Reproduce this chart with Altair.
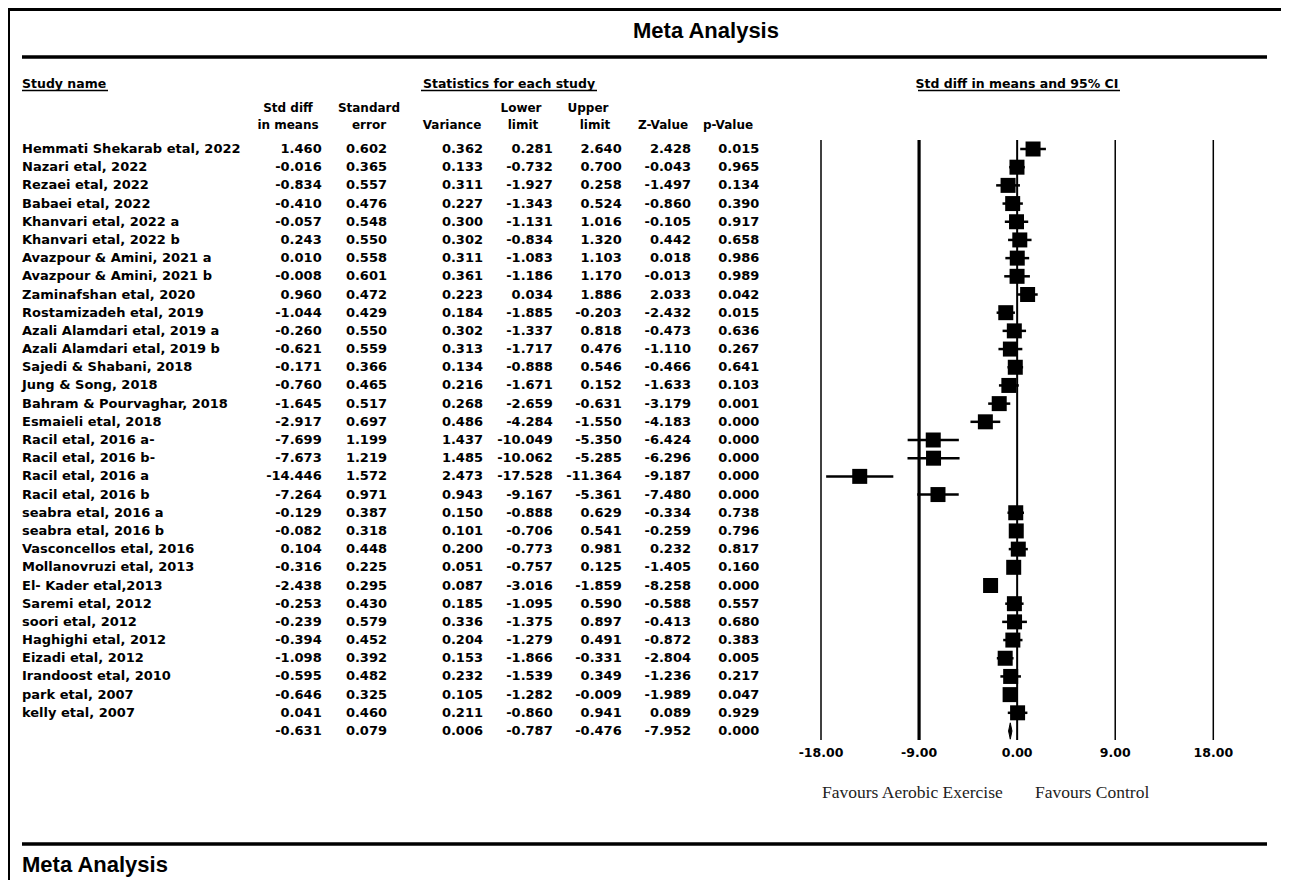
import altair as alt
import pandas as pd

# ---------------- data ----------------
names = [
    "Hemmati Shekarab etal, 2022", "Nazari etal, 2022", "Rezaei etal, 2022",
    "Babaei etal, 2022", "Khanvari etal, 2022 a", "Khanvari etal, 2022 b",
    "Avazpour & Amini, 2021 a", "Avazpour & Amini, 2021 b", "Zaminafshan etal, 2020",
    "Rostamizadeh etal, 2019", "Azali Alamdari etal, 2019 a", "Azali Alamdari etal, 2019 b",
    "Sajedi & Shabani, 2018", "Jung & Song, 2018", "Bahram & Pourvaghar, 2018",
    "Esmaieli etal, 2018", "Racil  etal, 2016 a-", "Racil  etal, 2016 b-",
    "Racil  etal, 2016 a", "Racil  etal, 2016 b", "seabra etal, 2016 a",
    "seabra etal, 2016 b", "Vasconcellos etal, 2016", "Mollanovruzi etal, 2013",
    "El- Kader etal,2013", "Saremi etal, 2012", "soori etal, 2012",
    "Haghighi  etal, 2012", "Eizadi  etal, 2012", "Irandoost etal, 2010",
    "park etal, 2007", "kelly etal, 2007",
]
std_diff = [1.460, -0.016, -0.834, -0.410, -0.057, 0.243, 0.010, -0.008, 0.960, -1.044,
            -0.260, -0.621, -0.171, -0.760, -1.645, -2.917, -7.699, -7.673, -14.446, -7.264,
            -0.129, -0.082, 0.104, -0.316, -2.438, -0.253, -0.239, -0.394, -1.098, -0.595,
            -0.646, 0.041]
std_err = [0.602, 0.365, 0.557, 0.476, 0.548, 0.550, 0.558, 0.601, 0.472, 0.429,
           0.550, 0.559, 0.366, 0.465, 0.517, 0.697, 1.199, 1.219, 1.572, 0.971,
           0.387, 0.318, 0.448, 0.225, 0.295, 0.430, 0.579, 0.452, 0.392, 0.482,
           0.325, 0.460]
variance = [0.362, 0.133, 0.311, 0.227, 0.300, 0.302, 0.311, 0.361, 0.223, 0.184,
            0.302, 0.313, 0.134, 0.216, 0.268, 0.486, 1.437, 1.485, 2.473, 0.943,
            0.150, 0.101, 0.200, 0.051, 0.087, 0.185, 0.336, 0.204, 0.153, 0.232,
            0.105, 0.211]
lower = [0.281, -0.732, -1.927, -1.343, -1.131, -0.834, -1.083, -1.186, 0.034, -1.885,
         -1.337, -1.717, -0.888, -1.671, -2.659, -4.284, -10.049, -10.062, -17.528, -9.167,
         -0.888, -0.706, -0.773, -0.757, -3.016, -1.095, -1.375, -1.279, -1.866, -1.539,
         -1.282, -0.860]
upper = [2.640, 0.700, 0.258, 0.524, 1.016, 1.320, 1.103, 1.170, 1.886, -0.203,
         0.818, 0.476, 0.546, 0.152, -0.631, -1.550, -5.350, -5.285, -11.364, -5.361,
         0.629, 0.541, 0.981, 0.125, -1.859, 0.590, 0.897, 0.491, -0.331, 0.349,
         -0.009, 0.941]
z_value = [2.428, -0.043, -1.497, -0.860, -0.105, 0.442, 0.018, -0.013, 2.033, -2.432,
           -0.473, -1.110, -0.466, -1.633, -3.179, -4.183, -6.424, -6.296, -9.187, -7.480,
           -0.334, -0.259, 0.232, -1.405, -8.258, -0.588, -0.413, -0.872, -2.804, -1.236,
           -1.989, 0.089]
p_value = [0.015, 0.965, 0.134, 0.390, 0.917, 0.658, 0.986, 0.989, 0.042, 0.015,
           0.636, 0.267, 0.641, 0.103, 0.001, 0.000, 0.000, 0.000, 0.000, 0.000,
           0.738, 0.796, 0.817, 0.160, 0.000, 0.557, 0.680, 0.383, 0.005, 0.217,
           0.047, 0.929]
# overall (summary) row: std diff, std err, variance, lower, upper, z, p
summary = [-0.631, 0.079, 0.006, -0.787, -0.476, -7.952, 0.000]
ticks = [-18, -9, 0, 9, 18]

# ---------------- tables ----------------
n = len(names)
cols = ["std_diff", "std_err", "variance", "lower", "upper", "z", "p"]
study = pd.DataFrame({
    "row": list(range(n)), "name": names, "std_diff": std_diff, "std_err": std_err,
    "variance": variance, "lower": lower, "upper": upper, "z": z_value, "p": p_value,
})
summ = pd.DataFrame([dict(zip(cols, summary))])
summ["row"] = n
summ["name"] = ""
table = pd.concat([study, summ], ignore_index=True)
for c in cols:
    table[c + "_t"] = table[c].map(lambda v: f"{v:.3f}")

s_est, s_lo, s_hi = summary[0], summary[3], summary[4]
diamond = pd.DataFrame({
    "row": [n - 0.45, n, n + 0.45],
    "xa": [s_est, s_lo, s_est],
    "xb": [s_est, s_hi, s_est],
})
tick_df = pd.DataFrame({"tick": ticks, "lab": [f"{t:.2f}" for t in ticks]})
one = pd.DataFrame({"k": [0]})

# ---------------- layout ----------------
W, H = 1273, 872
yscale = alt.Scale(domain=[0, n], range=[141, 723], nice=False, zero=False)
xscale = alt.Scale(domain=[-18, 18], range=[813, 1205.3], nice=False, zero=False)
SANS = "DejaVu Sans"
BLACK = "#000000"

layers = []


def label(text, x, y, size=12.5, align="center", font=SANS, weight="bold", color=BLACK):
    return alt.Chart(one).mark_text(
        text=text, align=align, baseline="middle", font=font, fontSize=size,
        fontWeight=weight, color=color,
    ).encode(x=alt.value(x), y=alt.value(y))


def hrule(x1, x2, y, w):
    return alt.Chart(one).mark_rule(color=BLACK, strokeWidth=w).encode(
        x=alt.value(x1), x2=alt.value(x2), y=alt.value(y))


# frame
layers.append(hrule(0, W, 1.5, 3))
layers.append(alt.Chart(one).mark_rule(color=BLACK, strokeWidth=3).encode(
    x=alt.value(0.5), y=alt.value(0), y2=alt.value(H)))

# titles and rules
layers.append(label("Meta Analysis", 698, 23, size=22, font="Liberation Sans"))
layers.append(hrule(14, 1259, 49, 3.5))
layers.append(label("Meta Analysis", 14, 857, size=22, align="left", font="Liberation Sans"))
layers.append(hrule(14, 1259, 836, 3.5))

# group headers with underlines
layers.append(label("Study name", 14, 76, align="left"))
layers.append(hrule(14, 100, 82.5, 1.5))
layers.append(label("Statistics for each study", 501, 76))
layers.append(hrule(413, 589, 82.5, 1.5))
layers.append(label("Std diff in means and 95% CI", 1009, 76))
layers.append(hrule(910, 1112, 82.5, 1.5))

# column headers
hdrs = [
    ("Std diff", 280, 100), ("in means", 280, 117),
    ("Standard", 361, 100), ("error", 361, 117),
    ("Variance", 444, 117),
    ("Lower", 513, 100), ("limit", 515, 117),
    ("Upper", 580, 100), ("limit", 587, 117),
    ("Z-Value", 655, 117), ("p-Value", 720, 117),
]
for t, x, y in hdrs:
    layers.append(label(t, x, y, size=12))

# table body
ycode = alt.Y("row:Q", scale=yscale, axis=None)
layers.append(alt.Chart(table).mark_text(
    align="left", baseline="middle", font=SANS, fontSize=13, fontWeight="bold", color=BLACK
).encode(x=alt.value(14), y=ycode, text="name:N"))

col_right = {"std_diff": 313.7, "std_err": 379, "variance": 475, "lower": 544.7,
             "upper": 613.7, "z": 683, "p": 751.3}
for c in cols:
    layers.append(alt.Chart(table).mark_text(
        align="right", baseline="middle", font=SANS, fontSize=13, fontWeight="bold", color=BLACK
    ).encode(x=alt.value(col_right[c]), y=ycode, text=f"{c}_t:N"))

# forest plot: reference lines (the -9 line heavier, the 0 line medium)
for flt, w in [("datum.tick == -9", 3.2), ("datum.tick == 0", 2.0),
               ("datum.tick != -9 && datum.tick != 0", 1.5)]:
    layers.append(alt.Chart(tick_df).transform_filter(flt).mark_rule(
        color=BLACK, strokeWidth=w).encode(
        x=alt.X("tick:Q", scale=xscale, axis=None),
        y=alt.value(132), y2=alt.value(732)))
layers.append(alt.Chart(tick_df).mark_text(
    baseline="middle", font=SANS, fontSize=12.5, fontWeight="bold", color=BLACK
).encode(x=alt.X("tick:Q", scale=xscale, axis=None), y=alt.value(745), text="lab:N"))

# confidence intervals and point estimates
layers.append(alt.Chart(study).mark_rule(color=BLACK, strokeWidth=2.5).encode(
    x=alt.X("lower:Q", scale=xscale, axis=None), x2="upper:Q", y=ycode))
layers.append(alt.Chart(study).mark_square(size=225, color=BLACK, opacity=1, filled=True).encode(
    x=alt.X("std_diff:Q", scale=xscale, axis=None), y=ycode))

# summary diamond
layers.append(alt.Chart(diamond).mark_area(orient="horizontal", color=BLACK, opacity=1,
                                           stroke=BLACK, strokeWidth=1).encode(
    y=ycode, x=alt.X("xa:Q", scale=xscale, axis=None), x2="xb:Q"))

# favours labels
layers.append(label("Favours  Aerobic Exercise", 814, 785, size=17.5, align="left",
                    font="Liberation Serif", weight="normal", color="#222222"))
layers.append(label("Favours  Control", 1027, 785, size=17.5, align="left",
                    font="Liberation Serif", weight="normal", color="#222222"))

chart = alt.layer(*layers).properties(
    width=W, height=H, padding=0, autosize=alt.AutoSizeParams(type="none"),
    background="white",
).configure_view(stroke=None)

chart.save("out.html", embed_options={"renderer": "svg", "actions": False})
